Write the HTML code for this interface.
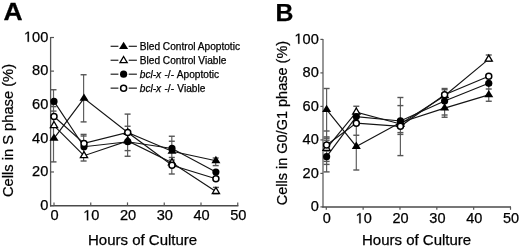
<!DOCTYPE html>
<html><head><meta charset="utf-8"><style>
html,body{margin:0;padding:0;background:#fff;}
body{width:520px;height:248px;overflow:hidden;font-family:"Liberation Sans",sans-serif;filter:grayscale(1) blur(0.3px);}
svg{display:block;}
text{stroke:#000;stroke-width:0.25px;}
</style></head><body>
<svg width="520" height="248" viewBox="0 0 520 248" font-family="Liberation Sans, sans-serif">
<rect width="520" height="248" fill="#fff"/>
<text transform="translate(3.6,20.1) scale(1.08,1)" font-size="24.5" font-weight="bold">A</text>
<text x="275.6" y="20.5" font-size="24.8" text-anchor="start" font-weight="bold">B</text>
<line x1="50.6" y1="37" x2="50.6" y2="206.4" stroke="#555" stroke-width="1.3"/>
<line x1="50.0" y1="205.8" x2="238.4" y2="205.8" stroke="#4a4a4a" stroke-width="1.45"/>
<line x1="50.6" y1="205.60" x2="54" y2="205.60" stroke="#555" stroke-width="1.2"/>
<text x="48.30" y="209.90" font-size="14.6" text-anchor="end" >0</text>
<line x1="50.6" y1="171.98" x2="54" y2="171.98" stroke="#555" stroke-width="1.2"/>
<text x="48.30" y="176.28" font-size="14.6" text-anchor="end" >20</text>
<line x1="50.6" y1="138.36" x2="54" y2="138.36" stroke="#555" stroke-width="1.2"/>
<text x="48.30" y="142.66" font-size="14.6" text-anchor="end" >40</text>
<line x1="50.6" y1="104.74" x2="54" y2="104.74" stroke="#555" stroke-width="1.2"/>
<text x="48.30" y="109.04" font-size="14.6" text-anchor="end" >60</text>
<line x1="50.6" y1="71.12" x2="54" y2="71.12" stroke="#555" stroke-width="1.2"/>
<text x="48.30" y="75.42" font-size="14.6" text-anchor="end" >80</text>
<line x1="50.6" y1="37.50" x2="54" y2="37.50" stroke="#555" stroke-width="1.2"/>
<text x="48.30" y="41.80" font-size="14.6" text-anchor="end"><tspan style="fill:none;stroke:none">1</tspan>00</text><path transform="translate(23.941,41.800) scale(0.007129,-0.007129)" d="M515,0 L515,1237 L197,1010 L197,1180 L530,1409 L696,1409 L696,0 Z" fill="#000" stroke="#000" stroke-width="0.25" vector-effect="non-scaling-stroke"/>
<line x1="54.00" y1="205.7" x2="54.00" y2="202.4" stroke="#555" stroke-width="1.2"/>
<text x="54.60" y="220.30" font-size="14.6" text-anchor="middle" >0</text>
<line x1="90.75" y1="205.7" x2="90.75" y2="202.4" stroke="#555" stroke-width="1.2"/>
<text x="91.35" y="220.30" font-size="14.6" text-anchor="middle"><tspan style="fill:none;stroke:none">1</tspan>0</text><path transform="translate(83.230,220.300) scale(0.007129,-0.007129)" d="M515,0 L515,1237 L197,1010 L197,1180 L530,1409 L696,1409 L696,0 Z" fill="#000" stroke="#000" stroke-width="0.25" vector-effect="non-scaling-stroke"/>
<line x1="127.50" y1="205.7" x2="127.50" y2="202.4" stroke="#555" stroke-width="1.2"/>
<text x="128.10" y="220.30" font-size="14.6" text-anchor="middle" >20</text>
<line x1="164.25" y1="205.7" x2="164.25" y2="202.4" stroke="#555" stroke-width="1.2"/>
<text x="164.85" y="220.30" font-size="14.6" text-anchor="middle" >30</text>
<line x1="201.00" y1="205.7" x2="201.00" y2="202.4" stroke="#555" stroke-width="1.2"/>
<text x="201.60" y="220.30" font-size="14.6" text-anchor="middle" >40</text>
<line x1="237.75" y1="205.7" x2="237.75" y2="202.4" stroke="#555" stroke-width="1.2"/>
<text x="238.35" y="220.30" font-size="14.6" text-anchor="middle" >50</text>
<text x="88.0" y="245.4" font-size="15" text-anchor="start" >Hours of Culture</text>
<text transform="translate(13.4,197) rotate(-90)" font-size="14.7" x="0" y="0">Cells in S phase (%)</text>
<line x1="110.6" y1="46.30" x2="118.4" y2="46.30" stroke="#222" stroke-width="1.2"/>
<line x1="128.7" y1="46.30" x2="136.9" y2="46.30" stroke="#222" stroke-width="1.2"/>
<polygon points="123.60,41.67 128.10,49.07 119.10,49.07" fill="#000"/>
<text x="139.8" y="50.15" font-size="10.15" text-anchor="start" >Bled Control Apoptotic</text>
<line x1="110.6" y1="60.25" x2="118.4" y2="60.25" stroke="#222" stroke-width="1.2"/>
<line x1="128.7" y1="60.25" x2="136.9" y2="60.25" stroke="#222" stroke-width="1.2"/>
<polygon points="123.60,56.48 127.20,62.58 120.00,62.58" fill="#fff" stroke="#000" stroke-width="1.3" stroke-linejoin="miter"/>
<text x="139.8" y="64.10" font-size="10.15" text-anchor="start" >Bled Control Viable</text>
<line x1="110.6" y1="74.20" x2="118.4" y2="74.20" stroke="#222" stroke-width="1.2"/>
<line x1="128.7" y1="74.20" x2="136.9" y2="74.20" stroke="#222" stroke-width="1.2"/>
<circle cx="123.60" cy="74.20" r="3.6" fill="#000"/>
<text x="139.8" y="78.05" font-size="10.15" text-anchor="start" word-spacing="0.5"><tspan font-style="italic">bcl-x</tspan> -/- Apoptotic</text>
<line x1="110.6" y1="88.15" x2="118.4" y2="88.15" stroke="#222" stroke-width="1.2"/>
<line x1="128.7" y1="88.15" x2="136.9" y2="88.15" stroke="#222" stroke-width="1.2"/>
<circle cx="123.60" cy="88.15" r="3.0" fill="#fff" stroke="#000" stroke-width="1.5"/>
<text x="139.8" y="92.00" font-size="10.15" text-anchor="start" word-spacing="0.5"><tspan font-style="italic">bcl-x</tspan> -/- Viable</text>
<line x1="53.5" y1="89.75" x2="53.5" y2="161.9" stroke="#606060" stroke-width="1.2"/>
<line x1="50.50" y1="89.75" x2="56.50" y2="89.75" stroke="#555" stroke-width="1.4"/>
<line x1="50.50" y1="106.6" x2="56.50" y2="106.6" stroke="#555" stroke-width="1.4"/>
<line x1="50.50" y1="111.1" x2="56.50" y2="111.1" stroke="#555" stroke-width="1.4"/>
<line x1="50.50" y1="161.9" x2="56.50" y2="161.9" stroke="#555" stroke-width="1.4"/>
<line x1="83.6" y1="74.75" x2="83.6" y2="121.9" stroke="#606060" stroke-width="1.2"/>
<line x1="80.60" y1="74.75" x2="86.60" y2="74.75" stroke="#555" stroke-width="1.4"/>
<line x1="80.60" y1="121.9" x2="86.60" y2="121.9" stroke="#555" stroke-width="1.4"/>
<line x1="83.6" y1="134.4" x2="83.6" y2="161.0" stroke="#606060" stroke-width="1.2"/>
<line x1="80.60" y1="134.4" x2="86.60" y2="134.4" stroke="#555" stroke-width="1.4"/>
<line x1="80.60" y1="136.0" x2="86.60" y2="136.0" stroke="#555" stroke-width="1.4"/>
<line x1="80.60" y1="161.0" x2="86.60" y2="161.0" stroke="#555" stroke-width="1.4"/>
<line x1="127.6" y1="114.1" x2="127.6" y2="156.25" stroke="#606060" stroke-width="1.2"/>
<line x1="124.60" y1="114.1" x2="130.60" y2="114.1" stroke="#555" stroke-width="1.4"/>
<line x1="124.60" y1="126.25" x2="130.60" y2="126.25" stroke="#555" stroke-width="1.4"/>
<line x1="124.60" y1="150.6" x2="130.60" y2="150.6" stroke="#555" stroke-width="1.4"/>
<line x1="124.60" y1="156.25" x2="130.60" y2="156.25" stroke="#555" stroke-width="1.4"/>
<line x1="171.8" y1="136.25" x2="171.8" y2="174" stroke="#606060" stroke-width="1.2"/>
<line x1="168.80" y1="136.25" x2="174.80" y2="136.25" stroke="#555" stroke-width="1.4"/>
<line x1="168.80" y1="141.25" x2="174.80" y2="141.25" stroke="#555" stroke-width="1.4"/>
<line x1="168.80" y1="157.5" x2="174.80" y2="157.5" stroke="#555" stroke-width="1.4"/>
<line x1="168.80" y1="160" x2="174.80" y2="160" stroke="#555" stroke-width="1.4"/>
<line x1="168.80" y1="174" x2="174.80" y2="174" stroke="#555" stroke-width="1.4"/>
<line x1="215.7" y1="158" x2="215.7" y2="165.6" stroke="#606060" stroke-width="1.2"/>
<line x1="212.70" y1="158" x2="218.70" y2="158" stroke="#555" stroke-width="1.4"/>
<line x1="212.70" y1="165.6" x2="218.70" y2="165.6" stroke="#555" stroke-width="1.4"/>
<line x1="215.9" y1="187.4" x2="215.9" y2="193.6" stroke="#606060" stroke-width="1.2"/>
<line x1="212.90" y1="187.4" x2="218.90" y2="187.4" stroke="#555" stroke-width="1.4"/>
<line x1="212.90" y1="193.6" x2="218.90" y2="193.6" stroke="#555" stroke-width="1.4"/>
<polyline points="54.00,138.36 84.00,98.35 127.75,132.48 172.00,151.30 215.90,160.72" fill="none" stroke="#141414" stroke-width="1.15"/>
<polyline points="54.00,125.58 84.00,155.67 127.75,140.88 172.00,162.73 215.90,191.48" fill="none" stroke="#141414" stroke-width="1.15"/>
<polyline points="54.00,101.38 84.00,146.76 127.75,141.72 172.00,148.45 215.90,171.98" fill="none" stroke="#141414" stroke-width="1.15"/>
<polyline points="54.00,116.51 84.00,143.40 127.75,132.48 172.00,165.26 215.90,178.70" fill="none" stroke="#141414" stroke-width="1.15"/>
<polygon points="54.00,121.52 57.60,127.62 50.40,127.62" fill="#fff" stroke="#000" stroke-width="1.3" stroke-linejoin="miter"/>
<polygon points="84.00,151.61 87.60,157.71 80.40,157.71" fill="#fff" stroke="#000" stroke-width="1.3" stroke-linejoin="miter"/>
<polygon points="127.75,136.81 131.35,142.91 124.15,142.91" fill="#fff" stroke="#000" stroke-width="1.3" stroke-linejoin="miter"/>
<polygon points="172.00,158.67 175.60,164.77 168.40,164.77" fill="#fff" stroke="#000" stroke-width="1.3" stroke-linejoin="miter"/>
<polygon points="215.90,187.41 219.50,193.51 212.30,193.51" fill="#fff" stroke="#000" stroke-width="1.3" stroke-linejoin="miter"/>
<polygon points="54.00,133.43 58.50,140.83 49.50,140.83" fill="#000"/>
<polygon points="84.00,93.42 88.50,100.82 79.50,100.82" fill="#000"/>
<polygon points="127.75,127.54 132.25,134.94 123.25,134.94" fill="#000"/>
<polygon points="172.00,146.37 176.50,153.77 167.50,153.77" fill="#000"/>
<polygon points="215.90,155.78 220.40,163.18 211.40,163.18" fill="#000"/>
<circle cx="54.00" cy="101.38" r="3.6" fill="#000"/>
<circle cx="84.00" cy="146.76" r="3.6" fill="#000"/>
<circle cx="127.75" cy="141.72" r="3.6" fill="#000"/>
<circle cx="172.00" cy="148.45" r="3.6" fill="#000"/>
<circle cx="215.90" cy="171.98" r="3.6" fill="#000"/>
<circle cx="54.00" cy="116.51" r="3.0" fill="#fff" stroke="#000" stroke-width="1.5"/>
<circle cx="84.00" cy="143.40" r="3.0" fill="#fff" stroke="#000" stroke-width="1.5"/>
<circle cx="127.75" cy="132.48" r="3.0" fill="#fff" stroke="#000" stroke-width="1.5"/>
<circle cx="172.00" cy="165.26" r="3.0" fill="#fff" stroke="#000" stroke-width="1.5"/>
<circle cx="215.90" cy="178.70" r="3.0" fill="#fff" stroke="#000" stroke-width="1.5"/>
<line x1="323.0" y1="39" x2="323.0" y2="207.6" stroke="#606060" stroke-width="1.3"/>
<line x1="322.3" y1="207.0" x2="511" y2="207.0" stroke="#4a4a4a" stroke-width="1.4"/>
<line x1="320.4" y1="206.90" x2="323.0" y2="206.90" stroke="#555" stroke-width="1.2"/>
<text x="318.80" y="211.20" font-size="14.6" text-anchor="end" >0</text>
<line x1="320.4" y1="173.40" x2="323.0" y2="173.40" stroke="#555" stroke-width="1.2"/>
<text x="318.80" y="177.70" font-size="14.6" text-anchor="end" >20</text>
<line x1="320.4" y1="139.90" x2="323.0" y2="139.90" stroke="#555" stroke-width="1.2"/>
<text x="318.80" y="144.20" font-size="14.6" text-anchor="end" >40</text>
<line x1="320.4" y1="106.40" x2="323.0" y2="106.40" stroke="#555" stroke-width="1.2"/>
<text x="318.80" y="110.70" font-size="14.6" text-anchor="end" >60</text>
<line x1="320.4" y1="72.90" x2="323.0" y2="72.90" stroke="#555" stroke-width="1.2"/>
<text x="318.80" y="77.20" font-size="14.6" text-anchor="end" >80</text>
<line x1="320.4" y1="39.40" x2="323.0" y2="39.40" stroke="#555" stroke-width="1.2"/>
<text x="318.80" y="43.70" font-size="14.6" text-anchor="end"><tspan style="fill:none;stroke:none">1</tspan>00</text><path transform="translate(294.441,43.700) scale(0.007129,-0.007129)" d="M515,0 L515,1237 L197,1010 L197,1180 L530,1409 L696,1409 L696,0 Z" fill="#000" stroke="#000" stroke-width="0.25" vector-effect="non-scaling-stroke"/>
<line x1="326.30" y1="206.9" x2="326.30" y2="209.8" stroke="#555" stroke-width="1.2"/>
<text x="326.90" y="223.20" font-size="14.5" text-anchor="middle" >0</text>
<line x1="363.14" y1="206.9" x2="363.14" y2="209.8" stroke="#555" stroke-width="1.2"/>
<text x="363.74" y="223.20" font-size="14.5" text-anchor="middle"><tspan style="fill:none;stroke:none">1</tspan>0</text><path transform="translate(355.676,223.200) scale(0.007080,-0.007080)" d="M515,0 L515,1237 L197,1010 L197,1180 L530,1409 L696,1409 L696,0 Z" fill="#000" stroke="#000" stroke-width="0.25" vector-effect="non-scaling-stroke"/>
<line x1="399.98" y1="206.9" x2="399.98" y2="209.8" stroke="#555" stroke-width="1.2"/>
<text x="400.58" y="223.20" font-size="14.5" text-anchor="middle" >20</text>
<line x1="436.82" y1="206.9" x2="436.82" y2="209.8" stroke="#555" stroke-width="1.2"/>
<text x="437.42" y="223.20" font-size="14.5" text-anchor="middle" >30</text>
<line x1="473.66" y1="206.9" x2="473.66" y2="209.8" stroke="#555" stroke-width="1.2"/>
<text x="474.26" y="223.20" font-size="14.5" text-anchor="middle" >40</text>
<line x1="510.50" y1="206.9" x2="510.50" y2="209.8" stroke="#555" stroke-width="1.2"/>
<text x="511.10" y="223.20" font-size="14.5" text-anchor="middle" >50</text>
<text x="362.0" y="245.2" font-size="15" text-anchor="start" >Hours of Culture</text>
<text transform="translate(287.2,205.3) rotate(-90)" font-size="14.5" x="0" y="0">Cells in G0/G1 phase (%)</text>
<line x1="326.6" y1="88.5" x2="326.6" y2="171.9" stroke="#606060" stroke-width="1.2"/>
<line x1="323.60" y1="88.5" x2="329.60" y2="88.5" stroke="#555" stroke-width="1.4"/>
<line x1="323.60" y1="131" x2="329.60" y2="131" stroke="#555" stroke-width="1.4"/>
<line x1="323.60" y1="136.9" x2="329.60" y2="136.9" stroke="#555" stroke-width="1.4"/>
<line x1="323.60" y1="138.2" x2="329.60" y2="138.2" stroke="#555" stroke-width="1.4"/>
<line x1="323.60" y1="140.2" x2="329.60" y2="140.2" stroke="#555" stroke-width="1.4"/>
<line x1="323.60" y1="151" x2="329.60" y2="151" stroke="#555" stroke-width="1.4"/>
<line x1="323.60" y1="161.4" x2="329.60" y2="161.4" stroke="#555" stroke-width="1.4"/>
<line x1="323.60" y1="164.4" x2="329.60" y2="164.4" stroke="#555" stroke-width="1.4"/>
<line x1="323.60" y1="171.9" x2="329.60" y2="171.9" stroke="#555" stroke-width="1.4"/>
<line x1="356.3" y1="106.25" x2="356.3" y2="170" stroke="#606060" stroke-width="1.2"/>
<line x1="353.30" y1="106.25" x2="359.30" y2="106.25" stroke="#555" stroke-width="1.4"/>
<line x1="353.30" y1="135.25" x2="359.30" y2="135.25" stroke="#555" stroke-width="1.4"/>
<line x1="353.30" y1="170" x2="359.30" y2="170" stroke="#555" stroke-width="1.4"/>
<line x1="400.4" y1="97.5" x2="400.4" y2="155.6" stroke="#606060" stroke-width="1.2"/>
<line x1="397.40" y1="97.5" x2="403.40" y2="97.5" stroke="#555" stroke-width="1.4"/>
<line x1="397.40" y1="105.6" x2="403.40" y2="105.6" stroke="#555" stroke-width="1.4"/>
<line x1="397.40" y1="132.6" x2="403.40" y2="132.6" stroke="#555" stroke-width="1.4"/>
<line x1="397.40" y1="134.4" x2="403.40" y2="134.4" stroke="#555" stroke-width="1.4"/>
<line x1="397.40" y1="155.6" x2="403.40" y2="155.6" stroke="#555" stroke-width="1.4"/>
<line x1="444.6" y1="88.5" x2="444.6" y2="117.25" stroke="#606060" stroke-width="1.2"/>
<line x1="441.60" y1="88.5" x2="447.60" y2="88.5" stroke="#555" stroke-width="1.4"/>
<line x1="441.60" y1="89.75" x2="447.60" y2="89.75" stroke="#555" stroke-width="1.4"/>
<line x1="441.60" y1="115" x2="447.60" y2="115" stroke="#555" stroke-width="1.4"/>
<line x1="441.60" y1="117.25" x2="447.60" y2="117.25" stroke="#555" stroke-width="1.4"/>
<line x1="488.75" y1="85" x2="488.75" y2="101.25" stroke="#606060" stroke-width="1.2"/>
<line x1="485.75" y1="85" x2="491.75" y2="85" stroke="#555" stroke-width="1.4"/>
<line x1="485.75" y1="89" x2="491.75" y2="89" stroke="#555" stroke-width="1.4"/>
<line x1="485.75" y1="101.25" x2="491.75" y2="101.25" stroke="#555" stroke-width="1.4"/>
<line x1="488.75" y1="55.0" x2="488.75" y2="61.3" stroke="#606060" stroke-width="1.2"/>
<line x1="485.75" y1="55.0" x2="491.75" y2="55.0" stroke="#555" stroke-width="1.4"/>
<line x1="485.75" y1="61.3" x2="491.75" y2="61.3" stroke="#555" stroke-width="1.4"/>
<polyline points="326.60,109.58 356.30,146.43 400.40,122.48 444.60,108.08 488.75,94.84" fill="none" stroke="#141414" stroke-width="1.15"/>
<polyline points="326.60,148.28 356.30,112.09 400.40,123.99 444.60,95.68 488.75,59.16" fill="none" stroke="#141414" stroke-width="1.15"/>
<polyline points="326.60,156.65 356.30,116.62 400.40,120.97 444.60,101.04 488.75,83.29" fill="none" stroke="#141414" stroke-width="1.15"/>
<polyline points="326.60,144.93 356.30,123.15 400.40,126.33 444.60,94.67 488.75,76.25" fill="none" stroke="#141414" stroke-width="1.15"/>
<polygon points="326.60,144.21 330.20,150.31 323.00,150.31" fill="#fff" stroke="#000" stroke-width="1.3" stroke-linejoin="miter"/>
<polygon points="356.30,108.03 359.90,114.13 352.70,114.13" fill="#fff" stroke="#000" stroke-width="1.3" stroke-linejoin="miter"/>
<polygon points="400.40,119.92 404.00,126.02 396.80,126.02" fill="#fff" stroke="#000" stroke-width="1.3" stroke-linejoin="miter"/>
<polygon points="444.60,91.61 448.20,97.71 441.00,97.71" fill="#fff" stroke="#000" stroke-width="1.3" stroke-linejoin="miter"/>
<polygon points="488.75,55.10 492.35,61.20 485.15,61.20" fill="#fff" stroke="#000" stroke-width="1.3" stroke-linejoin="miter"/>
<polygon points="326.60,104.65 331.10,112.05 322.10,112.05" fill="#000"/>
<polygon points="356.30,141.50 360.80,148.90 351.80,148.90" fill="#000"/>
<polygon points="400.40,117.55 404.90,124.95 395.90,124.95" fill="#000"/>
<polygon points="444.60,103.14 449.10,110.54 440.10,110.54" fill="#000"/>
<polygon points="488.75,89.91 493.25,97.31 484.25,97.31" fill="#000"/>
<circle cx="326.60" cy="156.65" r="3.6" fill="#000"/>
<circle cx="356.30" cy="116.62" r="3.6" fill="#000"/>
<circle cx="400.40" cy="120.97" r="3.6" fill="#000"/>
<circle cx="444.60" cy="101.04" r="3.6" fill="#000"/>
<circle cx="488.75" cy="83.29" r="3.6" fill="#000"/>
<circle cx="326.60" cy="144.93" r="3.0" fill="#fff" stroke="#000" stroke-width="1.5"/>
<circle cx="356.30" cy="123.15" r="3.0" fill="#fff" stroke="#000" stroke-width="1.5"/>
<circle cx="400.40" cy="126.33" r="3.0" fill="#fff" stroke="#000" stroke-width="1.5"/>
<circle cx="444.60" cy="94.67" r="3.0" fill="#fff" stroke="#000" stroke-width="1.5"/>
<circle cx="488.75" cy="76.25" r="3.0" fill="#fff" stroke="#000" stroke-width="1.5"/>
</svg>
</body></html>
